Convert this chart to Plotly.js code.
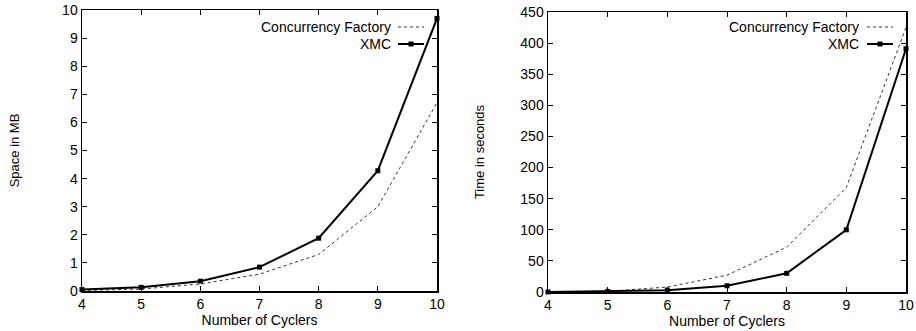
<!DOCTYPE html>
<html><head><meta charset="utf-8">
<script src="https://cdn.plot.ly/plotly-3.0.1.min.js"></script>
<style>html,body{margin:0;padding:0;background:#fff}#chart{width:916px;height:331px}</style>
</head><body><div id="chart"></div>
<script>
const cyclers = [4, 5, 6, 7, 8, 9, 10];
const spaceCF  = [0.02, 0.07, 0.25, 0.6, 1.3, 3.0, 6.7];
const spaceXMC = [0.05, 0.13, 0.35, 0.85, 1.88, 4.28, 9.7];
const timeCF   = [0, 1, 8, 27, 72, 168, 425];
const timeXMC  = [0, 1, 3, 10, 30, 100, 391];
const seriesNames = ['Concurrency Factory', 'XMC'];

const ink = '#000';
const fam = 'Liberation Sans, Arial, sans-serif';
const font = {family: fam, size: 14, color: ink};
const cfLine = {color: '#333', width: 1, dash: 'dot'};
const xmcLine = {color: ink, width: 2};
const xmcMarker = {symbol: 'square', size: 5, color: ink};

const traces = [
  {x: cyclers, y: spaceCF, xaxis: 'x', yaxis: 'y', mode: 'lines', line: cfLine, name: seriesNames[0], cliponaxis: false},
  {x: cyclers, y: spaceXMC, xaxis: 'x', yaxis: 'y', mode: 'lines+markers', line: xmcLine, marker: xmcMarker, name: seriesNames[1], cliponaxis: false},
  {x: cyclers, y: timeCF, xaxis: 'x2', yaxis: 'y2', mode: 'lines', line: cfLine, name: seriesNames[0], cliponaxis: false},
  {x: cyclers, y: timeXMC, xaxis: 'x2', yaxis: 'y2', mode: 'lines+markers', line: xmcLine, marker: xmcMarker, name: seriesNames[1], cliponaxis: false}
];

const W = 916, H = 331;
const px = v => v / W, py = v => 1 - v / H;

const axisCommon = {
  showgrid: false, zeroline: false, showline: true, linecolor: ink, linewidth: 1.5,
  mirror: 'allticks', ticks: 'inside', ticklen: 5, tickcolor: ink, tickwidth: 1,
  tickfont: {family: fam, size: 14, color: ink}
};

const layout = {
  width: W, height: H, margin: {l: 0, r: 0, t: 0, b: 0},
  paper_bgcolor: '#fff', plot_bgcolor: '#fff', font: font, showlegend: false,
  xaxis: Object.assign({}, axisCommon, {domain: [px(82), px(437)], range: [4, 10], dtick: 1, anchor: 'y',
    title: {text: 'Number of Cyclers', font: {size: 14, color: ink}, standoff: 2}}),
  yaxis: Object.assign({}, axisCommon, {domain: [py(291), py(10)], range: [0, 10], dtick: 1, anchor: 'x',
    title: {text: 'Space in MB', font: {size: 13, color: ink}, standoff: 39}}),
  xaxis2: Object.assign({}, axisCommon, {domain: [px(548), px(906)], range: [4, 10], dtick: 1, anchor: 'y2',
    title: {text: 'Number of Cyclers', font: {size: 14, color: ink}, standoff: 2}}),
  yaxis2: Object.assign({}, axisCommon, {domain: [py(292), py(12)], range: [0, 450], dtick: 50, anchor: 'x2',
    title: {text: 'Time in seconds', font: {size: 13, color: ink}, standoff: 33}}),
  annotations: [],
  shapes: []
};

// custom legends (text right-aligned, sample to the right), gnuplot-style
const legends = [
  {textRight: 392, x0: 398, x1: 424, y: [27, 44]},
  {textRight: 860, x0: 867, x1: 893, y: [27, 44]}
];
legends.forEach(lg => {
  seriesNames.forEach((nm, i) => {
    layout.annotations.push({xref: 'paper', yref: 'paper', x: px(lg.textRight), y: py(lg.y[i]),
      xanchor: 'right', yanchor: 'middle', text: nm, showarrow: false, borderpad: 0,
      font: {family: fam, size: 14, color: ink}});
    layout.shapes.push({type: 'line', xref: 'paper', yref: 'paper', x0: px(lg.x0), x1: px(lg.x1),
      y0: py(lg.y[i]), y1: py(lg.y[i]), line: i === 0 ? {color: '#333', width: 1, dash: 'dot'} : {color: ink, width: 2}});
    if (i === 1) {
      const cx = (lg.x0 + lg.x1) / 2;
      layout.shapes.push({type: 'rect', xref: 'paper', yref: 'paper', x0: px(cx - 2.5), x1: px(cx + 2.5),
        y0: py(lg.y[i] + 2.5), y1: py(lg.y[i] - 2.5), fillcolor: ink, line: {width: 0}});
    }
  });
});

Plotly.newPlot('chart', traces, layout, {staticPlot: true, displayModeBar: false});
</script></body></html>
